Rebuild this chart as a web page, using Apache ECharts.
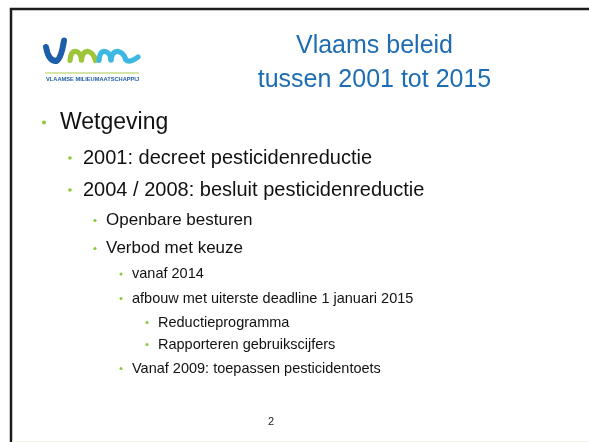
<!DOCTYPE html>
<html>
<head>
<meta charset="utf-8">
<script src="https://cdn.jsdelivr.net/npm/echarts@6/dist/echarts.min.js"></script>
<style>
html,body{margin:0;padding:0;background:#fff;}
#chart{width:589px;height:442px;}
</style>
</head>
<body>
<div id="chart"></div>
<script>
// ---- content ----
const titleLines = ['Vlaams beleid', 'tussen 2001 tot 2015'];
const bulletTexts = [
  'Wetgeving',
  '2001: decreet pesticidenreductie',
  '2004 / 2008: besluit pesticidenreductie',
  'Openbare besturen',
  'Verbod met keuze',
  'vanaf 2014',
  'afbouw met uiterste deadline 1 januari 2015',
  'Reductieprogramma',
  'Rapporteren gebruikscijfers',
  'Vanaf 2009: toepassen pesticidentoets'
];
const bulletLevels = [1, 2, 2, 3, 3, 4, 4, 5, 5, 4];
const logoCaption = 'VLAAMSE MILIEUMAATSCHAPPIJ';
const pageNumber = '2';

// ---- layout / style ----
const FONT = '"Liberation Sans", Arial, sans-serif';
const levelStyle = {
  1: {bx: 44, tx: 60, size: 23, r: 2.0},
  2: {bx: 70, tx: 83, size: 20, r: 1.8},
  3: {bx: 95, tx: 106, size: 17, r: 1.6},
  4: {bx: 121, tx: 132, size: 14.5, r: 1.5},
  5: {bx: 147, tx: 158, size: 14.5, r: 1.5}
};
const lineY = [122.5, 158, 190, 220.5, 248.5, 274, 298.5, 322.5, 344.5, 368.5];
const titleY = [46, 80];
const GREEN = '#8cc63f';
const TITLE_BLUE = '#1e6db3';

const chart = echarts.init(document.getElementById('chart'), null, {renderer: 'canvas'});
const elements = [];

function text(x, y, t, font, fill, align) {
  return {
    type: 'text', silent: true,
    style: {x: x, y: y, text: t, fill: fill, font: font,
      align: align, verticalAlign: 'middle',
      textAlign: align, textVerticalAlign: 'middle'}
  };
}
// quadratic curve chain: points [x0,y0, cx,cy, x1,y1, cx,cy, x2,y2 ...]
function curveChain(pts, color, w) {
  for (let i = 0; i + 4 < pts.length; i += 4) {
    elements.push({
      type: 'bezierCurve', silent: true,
      shape: {x1: pts[i], y1: pts[i + 1], cpx1: pts[i + 2], cpy1: pts[i + 3], x2: pts[i + 4], y2: pts[i + 5]},
      style: {fill: null, stroke: color, lineWidth: w, lineCap: 'round', lineJoin: 'round'}
    });
  }
}

// slide frame
elements.push({
  type: 'rect', silent: true,
  shape: {x: 11, y: 9, width: 640, height: 500},
  style: {fill: null, stroke: '#1c1c1c', lineWidth: 2.5}
});
elements.push({
  type: 'line', silent: true,
  shape: {x1: 12, y1: 441.5, x2: 589, y2: 441.5},
  style: {stroke: '#f2f2ea', lineWidth: 1}
});

// logo
curveChain([46, 47, 48.5, 61, 56, 61, 61, 60, 64, 40.5], '#1d5ea8', 6);
curveChain([70, 60.5, 70.5, 51, 76, 51.5, 80.5, 52, 81.5, 60, 82.5, 51, 88, 51.5, 93.5, 52.5, 95.5, 60.5], '#9cc53a', 5.2);
curveChain([99, 60.5, 99.5, 51, 105, 51.5, 110, 52, 111, 60, 112, 51, 118, 51.5, 123.5, 52.5, 125.5, 59, 129, 64, 138, 57], '#3db8e2', 5.2);
elements.push({
  type: 'line', silent: true,
  shape: {x1: 45, y1: 73, x2: 139, y2: 73},
  style: {stroke: '#c9dd8c', lineWidth: 1.6}
});
elements.push(text(46, 79, logoCaption, 'bold 5.7px ' + FONT, '#1d5ea8', 'left'));

// title
titleLines.forEach((t, i) => {
  elements.push(text(374.5, titleY[i], t, '25px ' + FONT, TITLE_BLUE, 'center'));
});

// bullets
bulletTexts.forEach((t, i) => {
  const ls = levelStyle[bulletLevels[i]];
  elements.push({
    type: 'circle', silent: true,
    shape: {cx: ls.bx, cy: lineY[i], r: ls.r},
    style: {fill: GREEN}
  });
  elements.push(text(ls.tx, lineY[i], t, ls.size + 'px ' + FONT, '#111', 'left'));
});

// page number
elements.push(text(271, 422, pageNumber, '11px ' + FONT, '#222', 'center'));

chart.setOption({
  animation: false,
  backgroundColor: '#fff',
  graphic: {elements: elements}
});
</script>
</body>
</html>
